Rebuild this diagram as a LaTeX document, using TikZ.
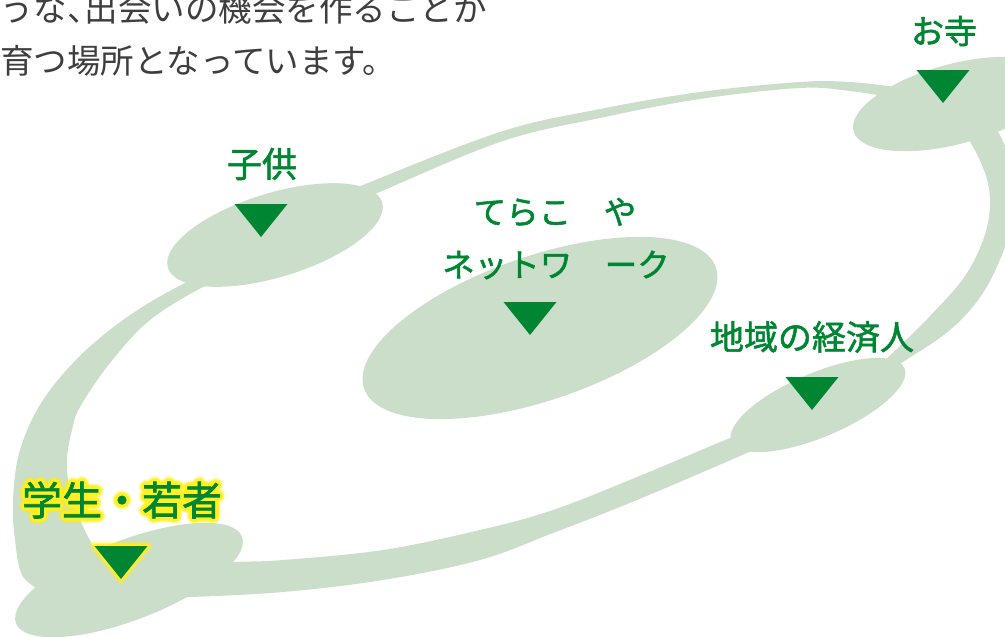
\documentclass[tikz,border=0pt]{standalone}
\usepackage{fontspec}
\newfontfamily\jp{Noto Sans CJK JP}
\newfontfamily\jpb[FakeBold=1.6]{Noto Sans CJK JP}
\usetikzlibrary{shapes.geometric}
\definecolor{bandc}{RGB}{203,222,202}
\definecolor{lg}{RGB}{0,134,50}
\definecolor{txtc}{RGB}{62,62,62}
\definecolor{glowc}{RGB}{255,240,30}
\tikzset{
  bandfill/.style={fill=bandc, draw=none},
  blob/.style={ellipse, fill=bandc, draw=none, inner sep=0pt},
  lab/.style={text=lg, inner sep=0pt, font=\jpb\fontsize{#1}{#1}\selectfont},
  tri/.style={fill=lg, draw=none},
  body/.style={text=txtc, inner sep=0pt, anchor=base west, font=\jp\fontsize{33.5}{33.5}\selectfont},
}
\begin{document}
\begin{tikzpicture}[x=1pt,y=-1pt]
\useasboundingbox (0,0) rectangle (1005,637);
\clip (0,0) rectangle (1005,637);

% body text (top left)
\node[body] (l1) at (0,21) {うな、\kern-16pt 出会いの機会を作ることか};
\node[body] (l2) at (0,73) {育つ場所となっています。};

% ring band pieces
\fill[bandfill] plot[smooth,tension=.6] coordinates {(350,192) (363,185) (500,132) (600,109) (700,92) (800,82) (850,82) (895,87)}
  -- plot[smooth,tension=.6] coordinates {(895,98) (850,91) (800,88) (700,99) (600,118) (500,142) (370,196) (355,200)} -- cycle;
\fill[bandfill] plot[smooth,tension=.6] coordinates {(985,118) (1000,135) (1012,170) (1015,210) (1005,247) (983,293) (950,330) (903,362) (880,378)}
  -- plot[smooth,tension=.6] coordinates {(880,365) (903,343) (933,313) (967,273) (987,227) (988,183) (967,137) (950,130)} -- cycle;
\fill[bandfill] plot[smooth,tension=.6] coordinates {(765,425) (730,438) (637,477) (553,510) (480,530) (383,550) (283,560) (235,562) (200,565)}
  -- plot[smooth,tension=.6] coordinates {(170,596) (190,597) (283,592) (383,580) (480,560) (553,533) (637,500) (747,453) (775,440)} -- cycle;
\fill[bandfill] plot[smooth,tension=.6] coordinates {(210,275) (187,282) (133,313) (83,353) (43,400) (20,450) (13,500) (15,540) (22,575) (40,590)}
  -- plot[smooth,tension=.6] coordinates {(100,560) (80,520) (70,493) (67,460) (72,430) (80,407) (110,363) (150,320) (203,287) (225,280)} -- cycle;

% ellipses
\node[blob, minimum width=210pt, minimum height=80pt, rotate=15] (otera) at (955,104) {};
\node[blob, minimum width=224pt, minimum height=84pt, rotate=17] (kodomo) at (275,235) {};
\node[blob, minimum width=372pt, minimum height=144pt, rotate=19] (terakoya) at (540,328) {};
\node[blob, minimum width=188pt, minimum height=64pt, rotate=23] (chiiki) at (818,405) {};
\node[blob, minimum width=242pt, minimum height=80pt, rotate=21] (gakusei) at (129,580) {};

% labels
\node[lab=33] (lotera) at (944,31) {お寺};
\node[lab=35] (lkodomo) at (262,164) {子供};
\node[lab=32.5] (lterakoya1) at (555,212) {てらこ　や};
\node[lab=32.5] (lterakoya2) at (556,265) {ネットワ　ーク};
\node[lab=34] (lchiiki) at (812,337) {地域の経済人};

% glowing label
\foreach \r/\o in {5.5/0.18,4/0.35,2.5/1}{
  \foreach \a in {0,30,...,330}{
    \node[lab=40, text=glowc, opacity=\o] at ([shift={(\a:\r)}]122,500) {学生・若者};
  }
}
\node[lab=40] (lgakusei) at (122,500) {学生・若者};

% triangles
\coordinate (t1) at (943,70);
\coordinate (t2) at (261,204);
\coordinate (t3) at (530,302);
\coordinate (t4) at (812,377);
\coordinate (t5) at (121,546);
\foreach \t in {t1,t2,t3,t4}{
  \fill[tri] (\t) ++(-26.5,0) -- ++(53,0) -- ++(-26.5,33) -- cycle;
}
\draw[glowc, line width=11pt, opacity=.2, line join=round] (t5) ++(-26.5,0) -- ++(53,0) -- ++(-26.5,33) -- cycle;
\draw[glowc, line width=7pt, opacity=.45, line join=round] (t5) ++(-26.5,0) -- ++(53,0) -- ++(-26.5,33) -- cycle;
\draw[glowc, line width=3.5pt, line join=round] (t5) ++(-26.5,0) -- ++(53,0) -- ++(-26.5,33) -- cycle;
\fill[tri] (t5) ++(-26.5,0) -- ++(53,0) -- ++(-26.5,33) -- cycle;
\end{tikzpicture}
\end{document}
